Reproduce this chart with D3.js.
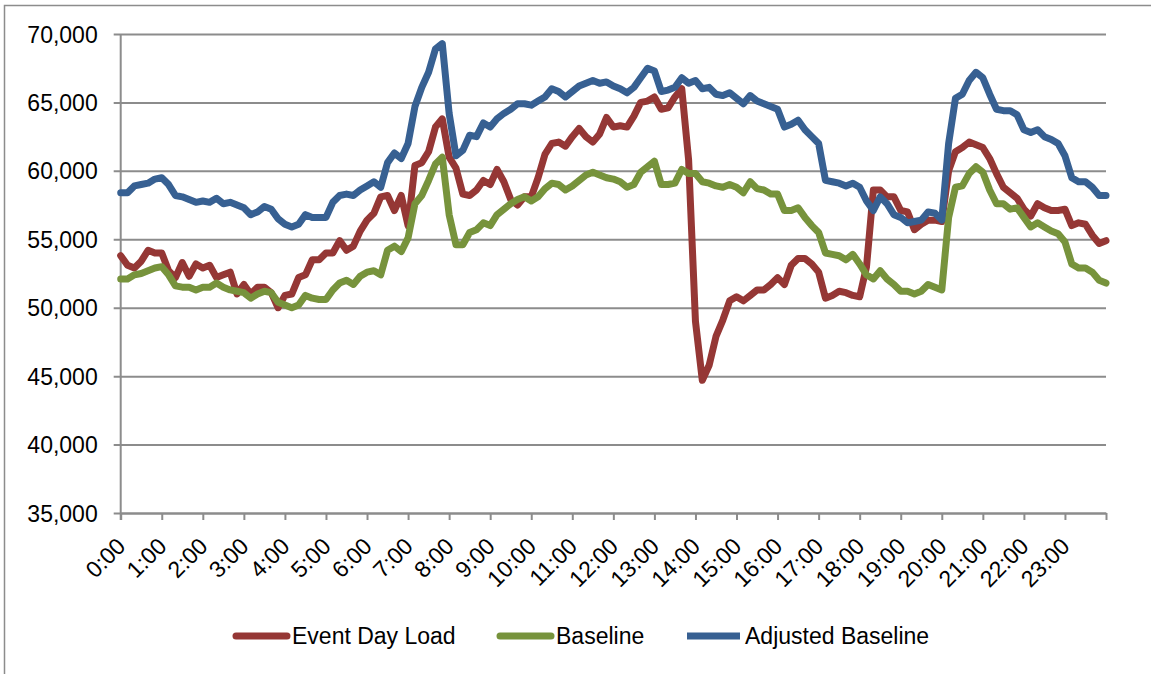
<!DOCTYPE html>
<html>
<head>
<meta charset="utf-8">
<script src="https://cdn.jsdelivr.net/npm/d3@7"></script>
<style>
  html, body { margin: 0; padding: 0; background: #fff; }
  svg { display: block; }
  text { font-family: "Liberation Sans", Arial, sans-serif; fill: #000; }
</style>
</head>
<body>
<svg id="chart" width="1151" height="674"></svg>
<script>
// Load profile at 10-minute intervals, 0:00 through 24:00 (MW)
const stepMinutes = 10;

const eventDayLoad = [
  53800, 53100, 52900, 53400, 54200, 54000, 54000, 52700, 52200, 53300, 52300, 53200,
  52900, 53100, 52200, 52400, 52600, 51000, 51700, 51000, 51500, 51500, 51100, 50000,
  50900, 51000, 52200, 52400, 53500, 53500, 54000, 54000, 54900, 54200, 54500, 55600,
  56400, 56900, 58100, 58200, 57100, 58200, 56000, 60400, 60600, 61400, 63200, 63800,
  61000, 60200, 58300, 58200, 58600, 59300, 59000, 60100, 59200, 57900, 57500, 58100,
  58100, 59500, 61200, 62000, 62100, 61800, 62500, 63100, 62500, 62100, 62700, 63900,
  63200, 63300, 63200, 64000, 65000, 65100, 65400, 64500, 64600, 65400, 66000, 60800,
  49000, 44700, 45800, 47900, 49100, 50500, 50800, 50500, 50900, 51300, 51300, 51700,
  52200, 51700, 53100, 53600, 53600, 53200, 52600, 50700, 50900, 51200, 51100, 50900,
  50800, 53000, 58600, 58600, 58100, 58100, 57100, 57000, 55700, 56100, 56400, 56400,
  56300, 60000, 61400, 61700, 62100, 61900, 61700, 60900, 59800, 58800, 58400, 58000,
  57200, 56700, 57600, 57300, 57100, 57100, 57200, 56000, 56200, 56100, 55300, 54700,
  54900
];

const baseline = [
  52100, 52100, 52400, 52500, 52700, 52900, 53000, 52400, 51600, 51500, 51500, 51300,
  51500, 51500, 51800, 51500, 51300, 51200, 51100, 50700, 51000, 51200, 51100, 50400,
  50200, 50000, 50200, 50900, 50700, 50600, 50600, 51300, 51800, 52000, 51700, 52300,
  52600, 52700, 52400, 54200, 54500, 54100, 55100, 57600, 58200, 59300, 60500, 61000,
  56800, 54600, 54600, 55500, 55700, 56200, 56000, 56800, 57200, 57600, 57900, 58100,
  57800, 58100, 58700, 59100, 59000, 58600, 58900, 59300, 59700, 59900, 59700, 59500,
  59400, 59200, 58800, 59000, 59900, 60300, 60700, 59000, 59000, 59100, 60100, 59800,
  59800, 59200, 59100, 58900, 58800, 59000, 58800, 58400, 59200, 58700, 58600, 58300,
  58300, 57100, 57100, 57300, 56600, 56000, 55500, 54000, 53900, 53800, 53500, 53900,
  53200, 52400, 52100, 52700, 52100, 51700, 51200, 51200, 51000, 51200, 51700, 51500,
  51300, 56600, 58800, 58900, 59800, 60300, 59900, 58600, 57600, 57600, 57200, 57300,
  56600, 55900, 56200, 55900, 55600, 55400, 54800, 53200, 52900, 52900, 52600, 52000,
  51800
];

const adjustedBaseline = [
  58400, 58400, 58900, 59000, 59100, 59400, 59500, 59000, 58200, 58100, 57900, 57700,
  57800, 57700, 58000, 57600, 57700, 57500, 57300, 56800, 57000, 57400, 57200, 56500,
  56100, 55900, 56100, 56800, 56600, 56600, 56600, 57700, 58200, 58300, 58200, 58600,
  58900, 59200, 58800, 60600, 61300, 60900, 62000, 64700, 66100, 67200, 68900, 69300,
  64200, 61100, 61500, 62600, 62500, 63500, 63200, 63800, 64200, 64500, 64900, 64900,
  64800, 65100, 65400, 66000, 65800, 65400, 65800, 66200, 66400, 66600, 66400, 66500,
  66200, 66000, 65700, 66100, 66800, 67500, 67300, 65800, 65900, 66100, 66800, 66400,
  66600, 66000, 66100, 65600, 65500, 65700, 65300, 64900, 65500, 65100, 64900, 64700,
  64500, 63200, 63400, 63700, 63000, 62500, 62000, 59300, 59200, 59100, 58900, 59100,
  58800, 57800, 57100, 58100, 57600, 56800, 56600, 56200, 56300, 56400, 57000, 56900,
  56400, 62000, 65300, 65600, 66600, 67200, 66800, 65600, 64500, 64400, 64400, 64100,
  63000, 62800, 63000, 62500, 62300, 62000, 61100, 59500, 59200, 59200, 58800, 58200,
  58200
];

const hourLabels = [
  "0:00", "1:00", "2:00", "3:00", "4:00", "5:00", "6:00", "7:00",
  "8:00", "9:00", "10:00", "11:00", "12:00", "13:00", "14:00", "15:00",
  "16:00", "17:00", "18:00", "19:00", "20:00", "21:00", "22:00", "23:00"
];

const yTicks = [35000, 40000, 45000, 50000, 55000, 60000, 65000, 70000];

const seriesNames = ["Event Day Load", "Baseline", "Adjusted Baseline"];
const seriesColors = ["#953735", "#77933c", "#376092"];

const svg = d3.select("#chart");
const plot = { left: 120.7, right: 1106, top: 34, bottom: 513 };
const gridColor = "#8c8c8c";

// outer chart frame
svg.append("rect")
  .attr("x", 4.5).attr("y", 5.5)
  .attr("width", 1200).attr("height", 720)
  .attr("fill", "none").attr("stroke", gridColor).attr("stroke-width", 1.5);

const x = d3.scaleLinear().domain([0, 24 * 60]).range([plot.left, plot.right]);
const y = d3.scaleLinear().domain([35000, 70000]).range([plot.bottom, plot.top]);

// horizontal gridlines + y axis ticks
const yAxis = d3.axisLeft(y)
  .tickValues(yTicks)
  .tickFormat(d3.format(","))
  .tickSizeInner(-(plot.right - plot.left))
  .tickSizeOuter(0)
  .tickPadding(0);

const gy = svg.append("g")
  .attr("transform", `translate(${plot.left},0)`)
  .call(yAxis);
gy.select(".domain").remove();
gy.selectAll(".tick line")
  .attr("x1", -7)
  .attr("stroke", gridColor).attr("stroke-width", 2);
gy.selectAll(".tick text")
  .attr("x", -23)
  .attr("dy", "0.35em")
  .style("font-size", "23px")
  .style("font-family", "'Liberation Sans', Arial, sans-serif")
  .attr("fill", "#000");

// vertical axis line
svg.append("line")
  .attr("x1", plot.left).attr("x2", plot.left)
  .attr("y1", plot.top).attr("y2", plot.bottom + 7)
  .attr("stroke", gridColor).attr("stroke-width", 2);

// x axis with hourly ticks
const hourTicks = d3.range(0, 25).map(h => h * 60);
const xAxis = d3.axisBottom(x)
  .tickValues(hourTicks)
  .tickFormat(d => d / 60 < hourLabels.length ? hourLabels[d / 60] : "")
  .tickSizeInner(7)
  .tickSizeOuter(0);

const gx = svg.append("g")
  .attr("transform", `translate(0,${plot.bottom})`)
  .call(xAxis);
gx.select(".domain").attr("stroke", gridColor).attr("stroke-width", 2);
gx.selectAll(".tick line").attr("stroke", gridColor).attr("stroke-width", 2);
gx.selectAll(".tick text")
  .attr("y", 0)
  .attr("text-anchor", "end")
  .attr("transform", "translate(0,29) rotate(-45)")
  .attr("dy", "0.35em")
  .style("font-size", "23px")
  .style("font-family", "'Liberation Sans', Arial, sans-serif")
  .attr("fill", "#000");

// series lines, drawn in series order so the adjusted baseline sits on top
const allSeries = [eventDayLoad, baseline, adjustedBaseline];
const line = d3.line()
  .x((d, i) => x(i * stepMinutes))
  .y(d => y(d));

allSeries.forEach((values, k) => {
  svg.append("path")
    .datum(values)
    .attr("d", line)
    .attr("fill", "none")
    .attr("stroke", seriesColors[k])
    .attr("stroke-width", 7)
    .attr("stroke-linejoin", "round")
    .attr("stroke-linecap", "round");
});

// legend
const legendItems = [
  { swatch: 233, text: 292 },
  { swatch: 497, text: 556 },
  { swatch: 684, text: 745 }
];
const legendY = 636;
seriesNames.forEach((name, k) => {
  const it = legendItems[k];
  svg.append("line")
    .attr("x1", it.swatch + 3).attr("x2", it.text - 5)
    .attr("y1", legendY).attr("y2", legendY)
    .attr("stroke", seriesColors[k])
    .attr("stroke-width", 7)
    .attr("stroke-linecap", k === 2 ? "butt" : "round");
  svg.append("text")
    .attr("x", it.text).attr("y", legendY)
    .attr("dy", "0.35em")
    .style("font-size", "23px")
    .text(name);
});
</script>
</body>
</html>
